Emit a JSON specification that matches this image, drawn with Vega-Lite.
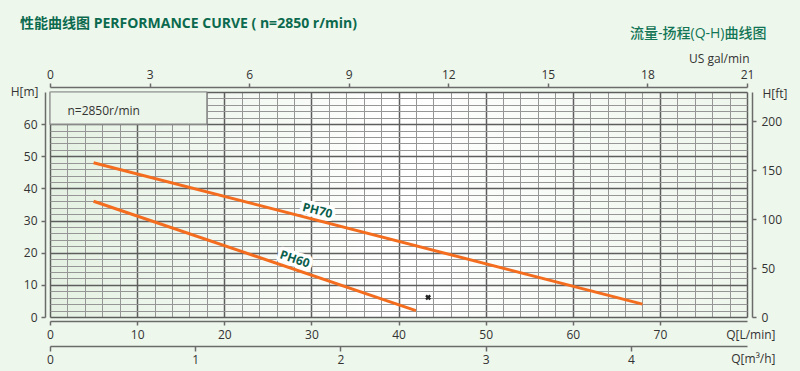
{
  "$schema": "https://vega.github.io/schema/vega-lite/v6.json",
  "width": 697,
  "height": 225,
  "autosize": {"type": "none"},
  "padding": {"left": 50, "top": 92, "right": 53, "bottom": 54},
  "background": "#eef7ec",
  "config": {
    "font": "Open Sans, Noto Sans CJK SC",
    "view": {
      "stroke": null,
      "fill": {"gradient": "linear", "x1": 0, "y1": 0, "x2": 1, "y2": 0,
        "stops": [{"offset": 0, "color": "#e4f1e2"}, {"offset": 0.5, "color": "#ffffff"}, {"offset": 1, "color": "#eef6ec"}]}
    },
    "axis": {
      "labelFont": "Open Sans",
      "labelFontSize": 12,
      "labelColor": "#333333",
      "titleFont": "Open Sans",
      "titleFontSize": 12,
      "titleFontWeight": "normal",
      "titleColor": "#333333",
      "titleAngle": 0,
      "titleBaseline": "alphabetic",
      "domainColor": "#6b6b6b",
      "domainWidth": 1.5,
      "tickColor": "#6b6b6b",
      "tickWidth": 1.5,
      "tickSize": 4,
      "labelPadding": 4,
      "labelOverlap": false,
      "labelFlush": false,
      "labelBound": false
    }
  },
  "title": {
    "text": "性能曲线图 PERFORMANCE CURVE ( n=2850 r/min)",
    "anchor": "start",
    "frame": "group",
    "dx": -30,
    "dy": 9,
    "font": "Open Sans, Noto Sans CJK SC",
    "fontSize": 14,
    "fontWeight": "bold",
    "color": "#0b6a4e"
  },
  "datasets": {
    "curves": [
      {"model": "PH70", "q": 5, "h": 48},
      {"model": "PH70", "q": 68, "h": 4},
      {"model": "PH60", "q": 5, "h": 36},
      {"model": "PH60", "q": 42, "h": 2}
    ],
    "labels": [
      {"label": "PH70", "q": 30.7, "h": 33.1},
      {"label": "PH60", "q": 28.1, "h": 18.0}
    ],
    "inset": [
      {"q0": 0, "q1": 18, "h0": 60, "h1": 70, "text": "n=2850r/min", "tq": 2, "th": 64}
    ],
    "marker": [
      {"q": 43.4, "h": 6.1}
    ]
  },
  "layer": [
    {
      "layer": [
        {
          "data": {"name": "curves"},
          "mark": {"type": "line", "color": "#f46d1f", "strokeWidth": 3},
          "encoding": {
            "x": {
              "field": "q", "type": "quantitative",
              "scale": {"domain": [0, 80], "nice": false},
              "axis": {
                "orient": "bottom", "offset": 4,
                "tickCount": 40,
                "labelExpr": "datum.value % 10 === 0 && datum.value < 80 ? datum.label : ''",
                "tickOpacity": {"condition": {"test": "datum.value % 10 === 0 && datum.value < 80", "value": 1}, "value": 0},
                "grid": true,
                "gridColor": {"condition": {"test": "datum.value % 10 === 0", "value": "#5e5e5e"}, "value": "#969696"},
                "gridWidth": {"condition": {"test": "datum.value % 10 === 0", "value": 1.5}, "value": 1},
                "title": "Q[L/min]",
                "titleX": 725, "titleY": 17, "titleAlign": "right"
              }
            },
            "y": {
              "field": "h", "type": "quantitative",
              "scale": {"domain": [0, 70], "nice": false},
              "axis": {
                "orient": "left", "offset": 5,
                "tickCount": 35,
                "labelExpr": "datum.value % 10 === 0 && datum.value < 70 ? datum.label : ''",
                "tickOpacity": {"condition": {"test": "datum.value % 10 === 0 && datum.value < 70", "value": 1}, "value": 0},
                "grid": true,
                "gridColor": {"condition": {"test": "datum.value % 10 === 0", "value": "#5e5e5e"}, "value": "#969696"},
                "gridWidth": {"condition": {"test": "datum.value % 10 === 0", "value": 1.5}, "value": 1},
                "title": "H[m]",
                "titleX": -7, "titleY": 3, "titleAlign": "right"
              }
            },
            "detail": {"field": "model"}
          }
        },
        {
          "data": {"name": "inset"},
          "mark": {"type": "rect", "fill": "#ebf5e9", "stroke": "#8a8a8a", "strokeWidth": 1.2},
          "encoding": {
            "x": {"field": "q0", "type": "quantitative"},
            "x2": {"field": "q1"},
            "y": {"field": "h0", "type": "quantitative"},
            "y2": {"field": "h1"}
          }
        },
        {
          "data": {"name": "inset"},
          "mark": {"type": "text", "align": "left", "baseline": "middle", "fontSize": 12, "color": "#333333", "font": "Open Sans"},
          "encoding": {
            "x": {"field": "tq", "type": "quantitative"},
            "y": {"field": "th", "type": "quantitative"},
            "text": {"field": "text"}
          }
        },
        {
          "data": {"name": "labels"},
          "transform": [{"filter": "datum.label === 'PH70'"}],
          "mark": {"type": "text", "angle": 14.5, "align": "center", "baseline": "middle", "fontSize": 12, "fontWeight": "bold", "fill": "#ffffff", "stroke": "#ffffff", "strokeWidth": 7, "strokeJoin": "round", "font": "Open Sans"},
          "encoding": {
            "x": {"field": "q", "type": "quantitative"},
            "y": {"field": "h", "type": "quantitative"},
            "text": {"field": "label"}
          }
        },
        {
          "data": {"name": "labels"},
          "transform": [{"filter": "datum.label === 'PH70'"}],
          "mark": {"type": "text", "angle": 14.5, "align": "center", "baseline": "middle", "fontSize": 12, "fontWeight": "bold", "color": "#0b5e4c", "font": "Open Sans"},
          "encoding": {
            "x": {"field": "q", "type": "quantitative"},
            "y": {"field": "h", "type": "quantitative"},
            "text": {"field": "label"}
          }
        },
        {
          "data": {"name": "labels"},
          "transform": [{"filter": "datum.label === 'PH60'"}],
          "mark": {"type": "text", "angle": 18.7, "align": "center", "baseline": "middle", "fontSize": 12, "fontWeight": "bold", "fill": "#ffffff", "stroke": "#ffffff", "strokeWidth": 7, "strokeJoin": "round", "font": "Open Sans"},
          "encoding": {
            "x": {"field": "q", "type": "quantitative"},
            "y": {"field": "h", "type": "quantitative"},
            "text": {"field": "label"}
          }
        },
        {
          "data": {"name": "labels"},
          "transform": [{"filter": "datum.label === 'PH60'"}],
          "mark": {"type": "text", "angle": 18.7, "align": "center", "baseline": "middle", "fontSize": 12, "fontWeight": "bold", "color": "#0b5e4c", "font": "Open Sans"},
          "encoding": {
            "x": {"field": "q", "type": "quantitative"},
            "y": {"field": "h", "type": "quantitative"},
            "text": {"field": "label"}
          }
        },
        {
          "data": {"name": "marker"},
          "mark": {"type": "point", "shape": "cross", "angle": 45, "filled": true, "color": "#222222", "size": 35, "opacity": 1},
          "encoding": {
            "x": {"field": "q", "type": "quantitative"},
            "y": {"field": "h", "type": "quantitative"}
          }
        }
      ]
    },
    {
      "data": {"values": [{"gpm": 0}]},
      "mark": {"type": "point", "opacity": 0},
      "encoding": {
        "x": {
          "field": "gpm", "type": "quantitative",
          "scale": {"domain": [0, 21], "nice": false},
          "axis": {
            "orient": "top", "offset": 5, "grid": false,
            "values": [0, 3, 6, 9, 12, 15, 18, 21],
            "labelPadding": 2,
            "title": "US gal/min",
            "titleX": 699, "titleY": -25, "titleAlign": "right"
          }
        }
      }
    },
    {
      "data": {"values": [{"m3h": 0}]},
      "mark": {"type": "point", "opacity": 0},
      "encoding": {
        "x": {
          "field": "m3h", "type": "quantitative",
          "scale": {"domain": [0, 4.8], "nice": false},
          "axis": {
            "orient": "bottom", "offset": 29, "grid": false,
            "values": [0, 1, 2, 3, 4],
            "tickSize": 5,
            "labelPadding": 3,
            "title": "Q[m³/h]",
            "titleX": 725, "titleY": 16, "titleAlign": "right"
          }
        }
      }
    },
    {
      "data": {"values": [{"ft": 0}]},
      "mark": {"type": "point", "opacity": 0},
      "encoding": {
        "y": {
          "field": "ft", "type": "quantitative",
          "scale": {"domain": [0, 229.66], "nice": false},
          "axis": {
            "orient": "right", "offset": 5, "grid": false,
            "values": [0, 50, 100, 150, 200],
            "labelPadding": 5,
            "title": "H[ft]",
            "titleX": 10, "titleY": 5, "titleAlign": "left"
          }
        }
      }
    },
    {
      "data": {"values": [{"s": 0}]},
      "mark": {"type": "point", "opacity": 0},
      "encoding": {
        "x": {
          "field": "s", "type": "quantitative",
          "scale": {"domain": [0, 1]},
          "axis": {
            "orient": "top",
            "domain": false, "ticks": false, "labels": false, "grid": false,
            "title": "流量-扬程(Q-H)曲线图",
            "titleFont": "Open Sans, Noto Sans CJK SC",
            "titleFontSize": 14,
            "titleFontWeight": 500,
            "titleColor": "#127556",
            "titleX": 716, "titleY": -55, "titleAlign": "right"
          }
        }
      }
    }
  ],
  "resolve": {"scale": {"x": "independent", "y": "independent"}}
}
